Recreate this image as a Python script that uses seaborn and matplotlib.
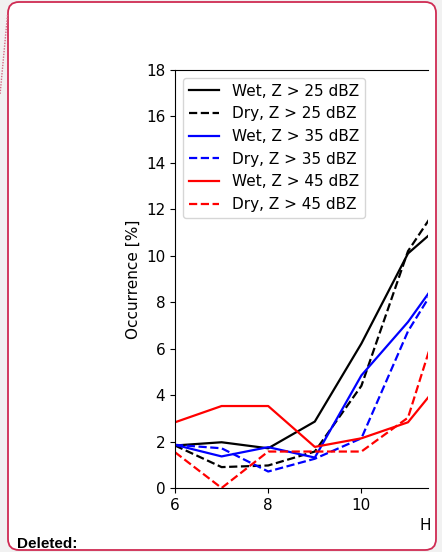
import matplotlib
matplotlib.use("Agg")
import matplotlib.pyplot as plt
import seaborn as sns
import pandas as pd
from matplotlib.patches import FancyBboxPatch
from matplotlib.lines import Line2D

hours = [6, 7, 8, 9, 10, 11, 12]
wet_25 = [1.83, 1.97, 1.71, 2.86, 6.22, 10.1, 11.85]
dry_25 = [1.83, 0.90, 0.97, 1.57, 4.40, 10.2, 13.2]
wet_35 = [1.86, 1.36, 1.76, 1.31, 4.85, 7.15, 9.95]
dry_35 = [1.86, 1.71, 0.71, 1.26, 2.14, 6.75, 10.0]
wet_45 = [2.83, 3.53, 3.53, 1.77, 2.14, 2.83, 5.3]
dry_45 = [1.54, 0.00, 1.57, 1.57, 1.57, 3.03, 9.4]

labels = ["Wet, Z > 25 dBZ", "Dry, Z > 25 dBZ",
          "Wet, Z > 35 dBZ", "Dry, Z > 35 dBZ",
          "Wet, Z > 45 dBZ", "Dry, Z > 45 dBZ"]
series = [wet_25, dry_25, wet_35, dry_35, wet_45, dry_45]
colors = ["black", "black", "blue", "blue", "red", "red"]

rows = []
for lab, vals in zip(labels, series):
    for h, v in zip(hours, vals):
        rows.append({"Hour": h, "Occurrence": v, "Series": lab})
df = pd.DataFrame(rows)

palette = dict(zip(labels, colors))
dashes = {lab: ("" if lab.startswith("Wet") else (3.7, 1.6)) for lab in labels}

W, H = 442, 552
fig = plt.figure(figsize=(W / 100, H / 100), dpi=100, facecolor="#f1f1f1")

# frame
frame = FancyBboxPatch((8, 2), 428, 548, boxstyle="round,pad=0,rounding_size=11",
                       transform=None, facecolor="white", edgecolor="#cf2b53",
                       linewidth=1.3, zorder=-10)
fig.patches.append(frame)
fig.lines.append(Line2D([7.5, 0], [H - 15, H - 95], transform=None, color="#d46a84",
                        linestyle=(0, (1, 1)), linewidth=1.0))

ax = fig.add_axes([175 / W, 64 / H, (428 - 175) / W, (482 - 64) / H])
sns.lineplot(data=df, x="Hour", y="Occurrence", hue="Series", style="Series",
             hue_order=labels, style_order=labels, palette=palette, dashes=dashes,
             linewidth=1.6, ax=ax)

ax.set_xlim(6, 6 + (428 - 175) / 46.6)
ax.set_ylim(0, 18)
ax.set_yticks(range(0, 19, 2))
ax.set_xticks([6, 8, 10])
ax.spines["right"].set_visible(False)
ax.tick_params(labelsize=11)
ax.set_ylabel("Occurrence [%]", fontsize=11)
ax.set_xlabel("H", fontsize=11, x=0.988)

leg = ax.legend(loc="upper left", fontsize=11)
leg.set_title(None)

fig.text(17, 4, "Deleted:", transform=None, fontsize=11, fontweight="bold",
         family="Liberation Sans", va="baseline", ha="left")

fig.savefig("out.png", dpi=100, facecolor=fig.get_facecolor())
